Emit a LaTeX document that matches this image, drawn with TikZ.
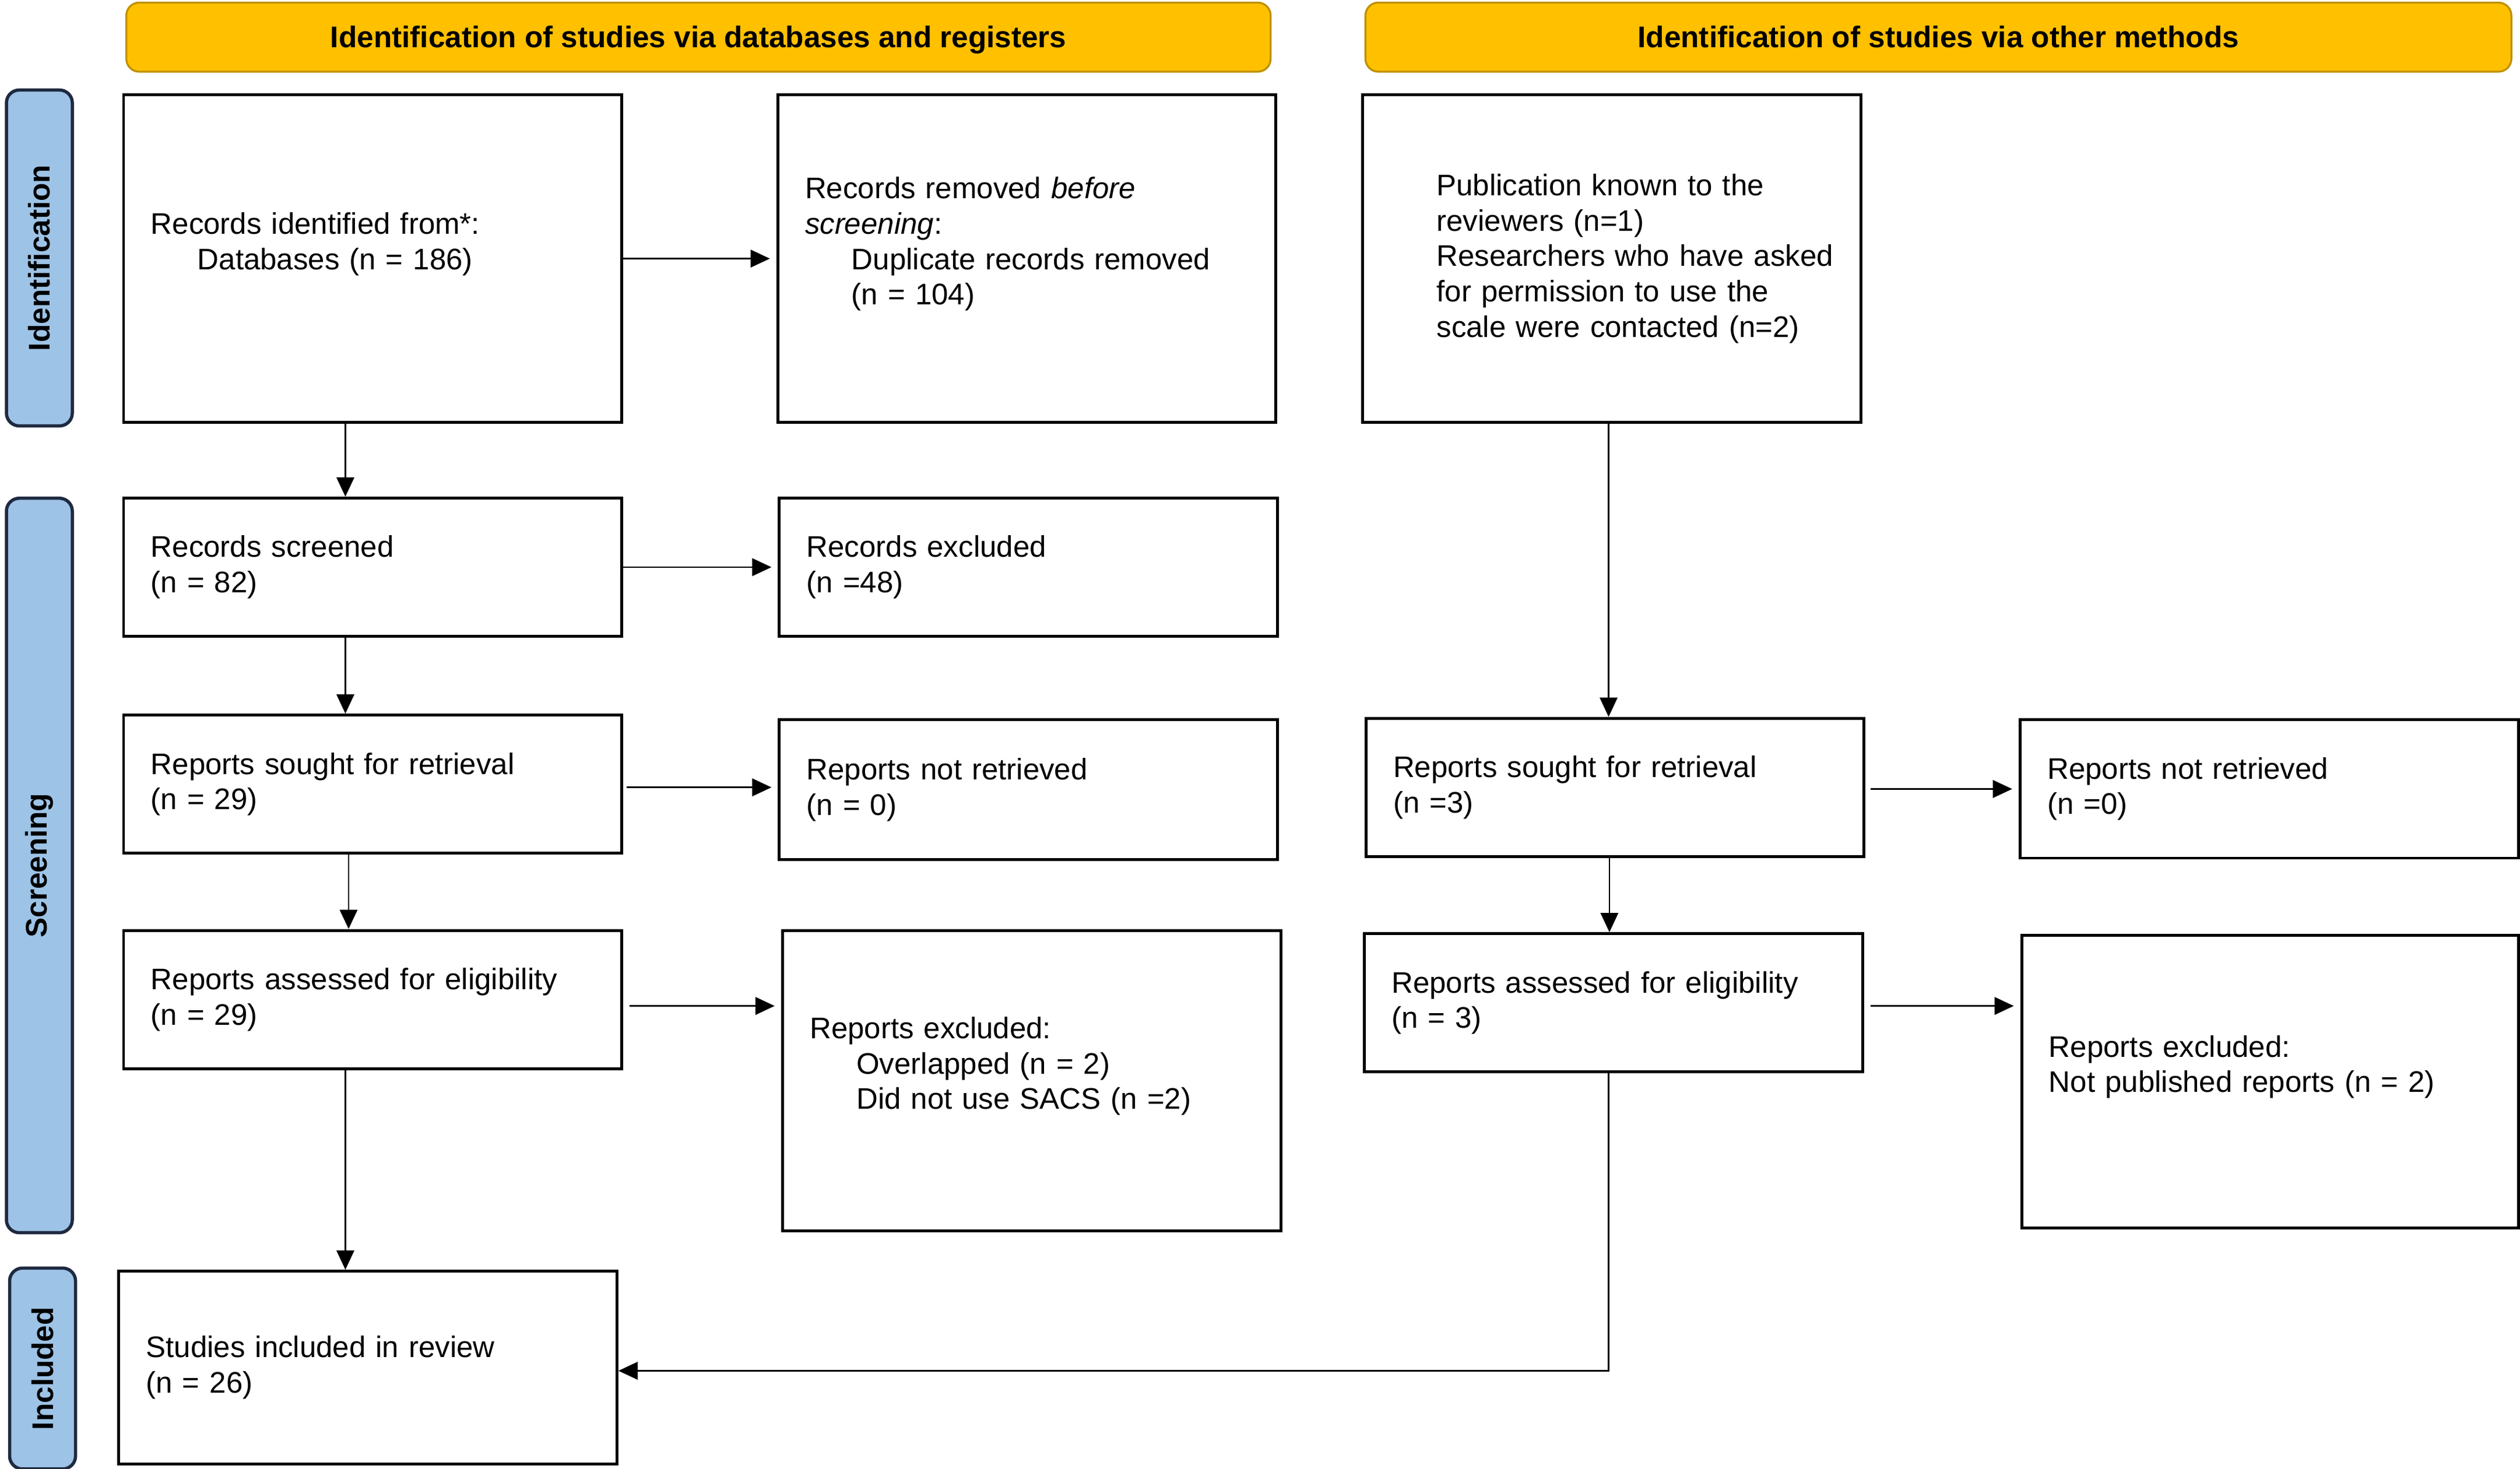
\documentclass[tikz,border=0pt]{standalone}
\usepackage{fontspec}
\setmainfont{Liberation Sans}
\usetikzlibrary{arrows.meta,calc}
\definecolor{hdrfill}{HTML}{FFC000}
\definecolor{hdrborder}{HTML}{BF9000}
\definecolor{sidefill}{HTML}{9DC3E6}
\definecolor{sideborder}{HTML}{1F2A40}
\begin{document}
\begin{tikzpicture}[x=1pt,y=-1pt,
  box/.style={draw=black, line width=1.8pt, fill=white, inner xsep=17pt, inner ysep=0pt,
    align=left, font=\fontsize{18.5}{22}\selectfont, anchor=north west,
    minimum width=310pt, text width=276pt},
  hdr/.style={draw=hdrborder, fill=hdrfill, line width=1.2pt, rounded corners=8pt,
    font=\fontsize{18.6}{22}\selectfont\bfseries, anchor=north west, inner sep=0pt,
    text height=13pt, text depth=0pt},
  side/.style={draw=sideborder, fill=sidefill, line width=2pt, rounded corners=8pt,
    anchor=north west, inner sep=0pt, minimum width=41pt},
  sidelabel/.style={rotate=90, font=\fontsize{18.6}{22}\selectfont\bfseries},
  arr/.style={line width=1pt, -{Triangle[length=12pt,width=11pt]}},
]
\useasboundingbox (0,0) rectangle (1568,914);
\fill[white] (0,0) rectangle (1568,914);

% headers
\node[hdr, minimum width=712pt, minimum height=43pt] (H1) at (78,1) {Identification of studies via databases and registers};
\node[hdr, minimum width=713pt, minimum height=43pt] (H2) at (849,1) {Identification of studies via other methods};

% side bars
\node[side, minimum height=209pt] (S1) at (3,55) {};
\node[sidelabel] (S1t) at (S1.center) {Identification};
\node[side, minimum height=457pt] (S2) at (3,309) {};
\node[sidelabel] (S2t) at (S2.center) {Screening};
\node[side, minimum height=125pt] (S3) at (5,788) {};
\node[sidelabel] (S3t) at (S3.center) {Included};

% boxes
\node[box, minimum height=204pt] (A) at (76,58) {Records identified from*:\\\hspace*{29pt}Databases (n = 186)\\\mbox{}};
\node[box, minimum height=204pt] (B) at (483,58) {Records removed \textit{before}\\\textit{screening}:\\\hspace*{29pt}Duplicate records removed\\\hspace*{29pt}(n = 104)\\\mbox{}};
\node[box, minimum height=204pt, inner xsep=10pt, text width=290pt] (C) at (847,58) {\hspace*{36pt}Publication known to the\\\hspace*{36pt}reviewers (n=1)\\\hspace*{36pt}Researchers who have asked\\\hspace*{36pt}for permission to use the\\\hspace*{36pt}scale were contacted (n=2)};
\node[box, minimum height=86pt] (D) at (76,309) {Records screened\\(n = 82)};
\node[box, minimum height=86pt] (E) at (484,309) {Records excluded\\(n =48)};
\node[box, minimum height=86pt] (F) at (76,444) {Reports sought for retrieval\\(n = 29)};
\node[box, minimum height=87pt] (G) at (484,447) {Reports not retrieved\\(n = 0)};
\node[box, minimum height=86pt] (H) at (849,446) {Reports sought for retrieval\\(n =3)};
\node[box, minimum height=86pt] (I) at (1256,447) {Reports not retrieved\\(n =0)};
\node[box, minimum height=86pt] (J) at (76,578) {Reports assessed for eligibility\\(n = 29)};
\node[box, minimum height=187pt] (K) at (486,578) {Reports excluded:\\\hspace*{29pt}Overlapped (n = 2)\\\hspace*{29pt}Did not use SACS (n =2)\\\mbox{}};
\node[box, minimum height=86pt] (L) at (848,580) {Reports assessed for eligibility\\(n = 3)};
\node[box, minimum height=182pt, minimum width=309pt, text width=275pt] (M) at (1257,581) {Reports excluded:\\Not published reports (n = 2)\\\mbox{}};
\node[box, minimum height=120pt] (N) at (73,790) {Studies included in review\\(n = 26)};

% arrows
\draw[arr, shorten >=4pt] (A.east) -- (B.west);
\draw[arr, shorten >=4pt] (D.east) -- (D.east -| E.west);
\draw[arr, shorten >=4pt] ([xshift=2pt,yshift=-2pt]F.east) -- ([yshift=-2pt]F.east -| G.west);
\draw[arr, shorten >=4pt] ([xshift=4pt,yshift=-4pt]J.east) -- ([yshift=-4pt]J.east -| K.west);
\draw[arr, shorten >=4pt] ([xshift=3pt,yshift=-1pt]H.east) -- ([yshift=-1pt]H.east -| I.west);
\draw[arr, shorten >=4pt] ([xshift=4pt,yshift=-2pt]L.east) -- ([yshift=-2pt]L.east -| M.west);

\draw[arr] ([xshift=-17pt]A.south) -- ([xshift=-17pt]A.south |- D.north);
\draw[arr] ([xshift=-17pt]D.south) -- ([xshift=-17pt]D.south |- F.north);
\draw[arr] ([xshift=-15pt]F.south) -- ([xshift=-15pt]F.south |- J.north);
\draw[arr] ([xshift=-17pt]J.south) -- ([xshift=-17pt]J.south |- N.north);
\draw[arr] ([xshift=-2pt]C.south) -- ([xshift=-2pt]C.south |- H.north);
\draw[arr] ([xshift=-3.5pt]H.south) -- ([xshift=-3.5pt]H.south |- L.north);
\draw[arr] ([xshift=-3pt]L.south) |- ([yshift=-2pt]N.east);
\end{tikzpicture}
\end{document}
